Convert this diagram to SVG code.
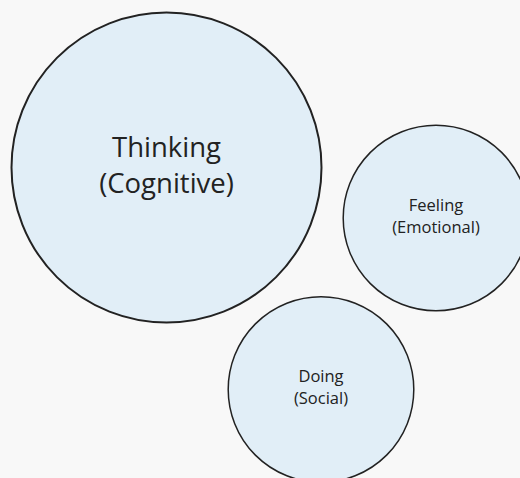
<svg xmlns="http://www.w3.org/2000/svg" width="520" height="478" viewBox="0 0 520 478">
<style>
.bg{fill:#f8f8f8}
.node circle{fill:#e1eef7;stroke:#222222}
.node text{font-family:"Open Sans","Noto Sans",sans-serif;fill:#222222;text-anchor:middle}
.big text{font-size:27.5px}
.small text{font-size:16.5px}
</style>
<rect class="bg" x="0" y="0" width="520" height="478"/>
<g id="connectors"></g>
<g id="node-thinking" class="node big">
<circle cx="166.5" cy="167.5" r="155" stroke-width="2"/>
<text x="166.5" y="156.5">Thinking</text>
<text x="166.5" y="193">(Cognitive)</text>
</g>
<g id="node-feeling" class="node small">
<circle cx="436" cy="218" r="92.8" stroke-width="1.5"/>
<text x="436" y="211">Feeling</text>
<text x="436" y="233">(Emotional)</text>
</g>
<g id="node-doing" class="node small">
<circle cx="321" cy="389.5" r="92.8" stroke-width="1.5"/>
<text x="321" y="382">Doing</text>
<text x="321" y="404">(Social)</text>
</g>
</svg>
